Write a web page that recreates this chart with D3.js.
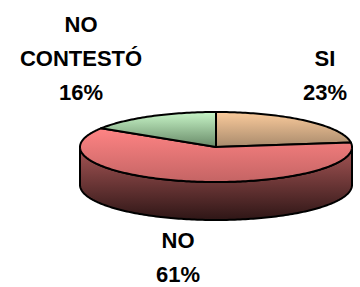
<!DOCTYPE html>
<html>
<head>
<meta charset="utf-8">
<script src="https://cdn.jsdelivr.net/npm/d3@7"></script>
<style>
  body { margin: 0; background: #fff; }
  svg { display: block; }
</style>
</head>
<body>
<svg id="chart"></svg>
<script>
// data
var categories = ["SI", "NO", "NO CONTESTÓ"];
var values = [23, 61, 16];
var percentLabels = ["23%", "61%", "16%"];

var width = 360, height = 287;
var cx = 216, cy = 147, rx = 136, ry = 35, depth = 38;

// top / bottom colours of each slice (vertical gradient)
var topColors = {
  "SI": ["#fbcb9c", "#a88a6c"],
  "NO": ["#ff8484", "#c46464"],
  "NO CONTESTÓ": ["#c8f6c8", "#688a68"]
};
var sideColors = ["#a85656", "#2e1616"];

// label centres (x, baseline of first line)
var labelPos = {
  "SI": [325, 66],
  "NO": [178, 248],
  "NO CONTESTÓ": [81, 32]
};

var svg = d3.select("#chart")
    .attr("width", width)
    .attr("height", height)
    .attr("viewBox", [0, 0, width, height]);

var defs = svg.append("defs");
function grad(id, c) {
  var g = defs.append("linearGradient")
      .attr("id", id)
      .attr("x1", 0).attr("y1", 0).attr("x2", 0).attr("y2", 1);
  g.append("stop").attr("offset", "0%").attr("stop-color", c[0]);
  g.append("stop").attr("offset", "100%").attr("stop-color", c[1]);
}
categories.forEach(function(c, i) { grad("top" + i, topColors[c]); });
grad("side", sideColors);

var pie = d3.pie().sort(null).value(function(d) { return d; });
var arcs = pie(values);

// point on the ellipse, angle measured clockwise from 12 o'clock
function pt(a, dy) {
  return [cx + rx * Math.sin(a), cy - ry * Math.cos(a) + (dy || 0)];
}
function arcPts(a0, a1, dy) {
  var n = Math.max(2, Math.ceil(Math.abs(a1 - a0) / 0.02));
  return d3.range(n + 1).map(function(k) { return pt(a0 + (a1 - a0) * k / n, dy); });
}
var line = d3.line();

// front side walls
var sides = svg.append("g").attr("class", "sides");
arcs.forEach(function(d, i) {
  var a0 = Math.max(d.startAngle, Math.PI / 2);
  var a1 = Math.min(d.endAngle, 3 * Math.PI / 2);
  if (a1 <= a0) return;
  var pts = arcPts(a0, a1, 0).concat(arcPts(a1, a0, depth));
  sides.append("path")
      .attr("d", line(pts) + "Z")
      .attr("fill", "url(#side)")
      .attr("stroke", "#000")
      .attr("stroke-width", 2)
      .attr("stroke-linejoin", "round");
});

// top faces
var tops = svg.append("g").attr("class", "tops");
arcs.forEach(function(d, i) {
  var pts = [[cx, cy]].concat(arcPts(d.startAngle, d.endAngle, 0));
  tops.append("path")
      .attr("d", line(pts) + "Z")
      .attr("fill", "url(#top" + i + ")")
      .attr("stroke", "#000")
      .attr("stroke-width", 2)
      .attr("stroke-linejoin", "round");
});

// labels
var labels = svg.append("g")
    .attr("font-family", "'Liberation Sans', Arial, sans-serif")
    .attr("font-weight", "bold")
    .attr("font-size", 22)
    .attr("text-anchor", "middle")
    .attr("fill", "#000");
categories.forEach(function(c, i) {
  var lines = (c === "NO CONTESTÓ" ? ["NO", "CONTESTÓ"] : [c]).concat([percentLabels[i]]);
  var p = labelPos[c];
  var t = labels.append("text").attr("x", p[0]).attr("y", p[1]);
  lines.forEach(function(s, k) {
    t.append("tspan")
        .attr("x", p[0])
        .attr("dy", k === 0 ? 0 : 34)
        .text(s);
  });
});
</script>
</body>
</html>
